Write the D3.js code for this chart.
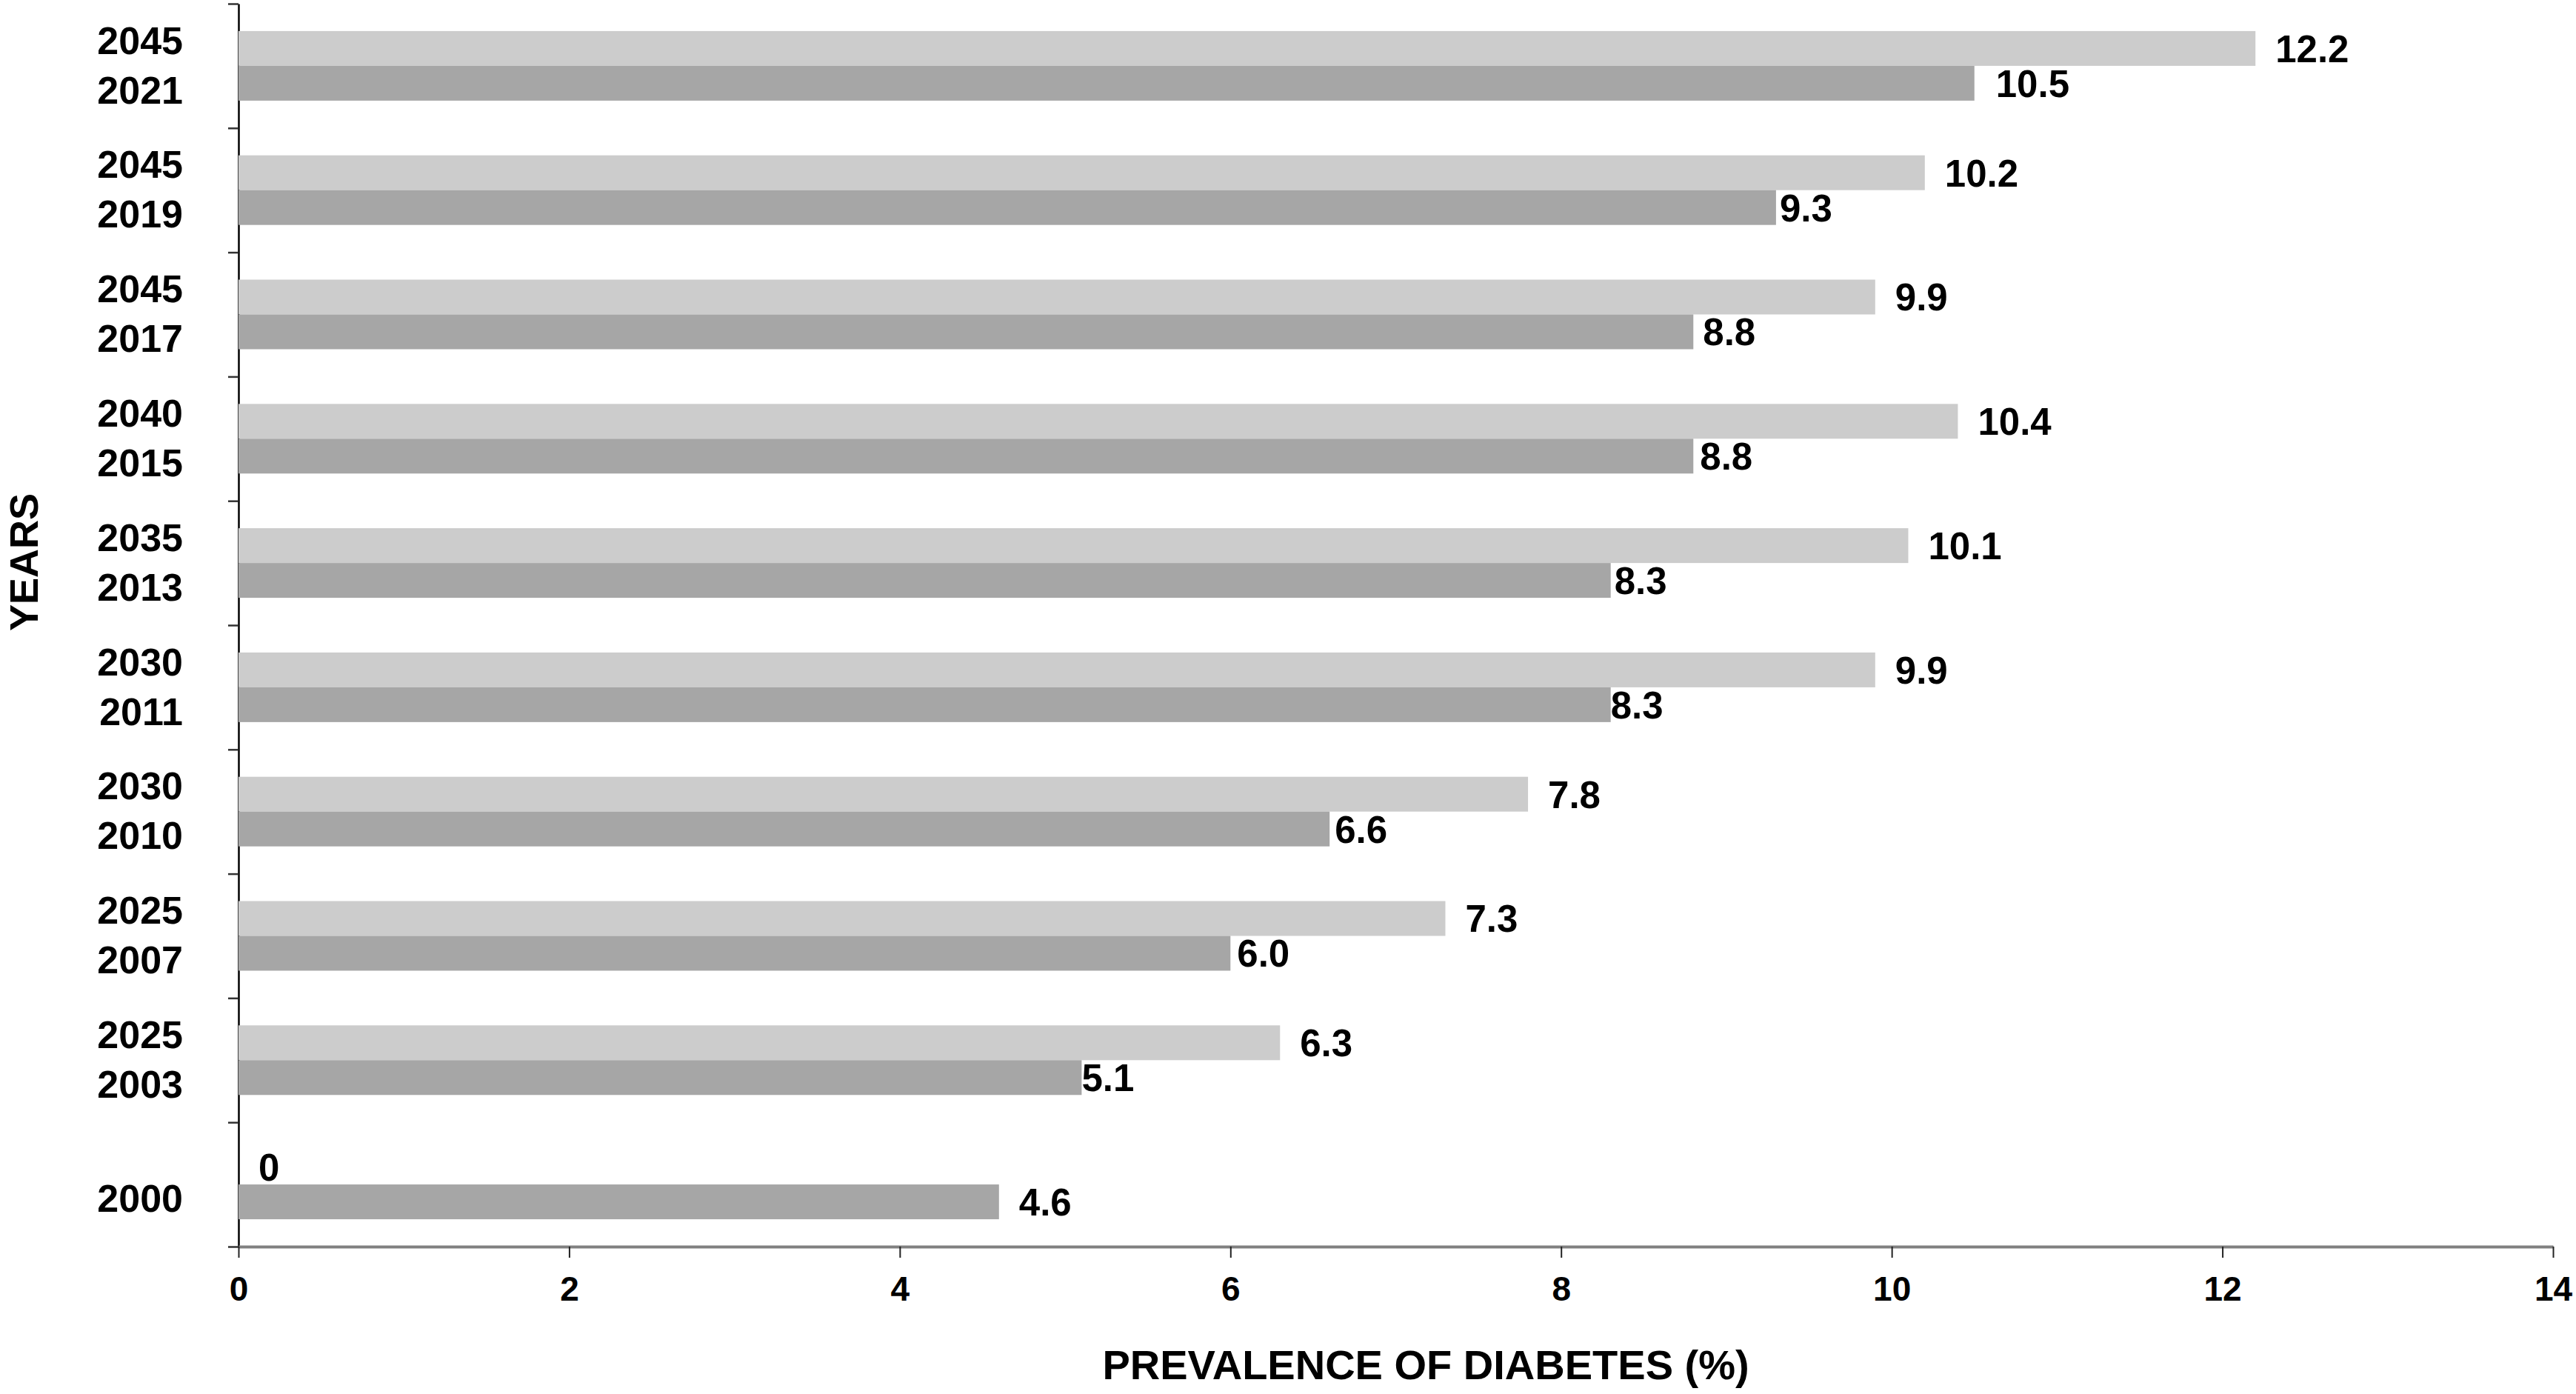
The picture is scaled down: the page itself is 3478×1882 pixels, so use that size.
<!DOCTYPE html>
<html>
<head>
<meta charset="utf-8">
<script src="https://cdn.jsdelivr.net/npm/d3@7"></script>
<style>
  html, body { margin: 0; padding: 0; background: #fff; }
  text { font-family: "Liberation Sans", Arial, sans-serif; font-weight: bold; fill: #000; }
</style>
</head>
<body>
<div id="chart"></div>
<script>
// data, top group first
const baseYears = ['2021', '2019', '2017', '2015', '2013', '2011', '2010', '2007', '2003', '2000']
const projYears = ['2045', '2045', '2045', '2040', '2035', '2030', '2030', '2025', '2025', null]
const baseValues = [10.5, 9.3, 8.8, 8.8, 8.3, 8.3, 6.6, 6.0, 5.1, 4.6]
const projValues = [12.2, 10.2, 9.9, 10.4, 10.1, 9.9, 7.8, 7.3, 6.3, 0]
const xTicks = [0, 2, 4, 6, 8, 10, 12, 14]

const width = 3478,
  height = 1882

const plotLeft = 322, plotRight = 3447, plotTop = 5, plotBottom = 1683

const svg = d3.select('#chart')
  .append('svg')
  .attr('width', width)
  .attr('height', height)
  .style('background', '#fff')

const x = d3.scaleLinear().domain([0, 14]).range([plotLeft, plotRight])

const groups = d3.range(baseYears.length)
const y = d3.scaleBand()
  .domain(groups)
  .range([plotTop, plotBottom])
  .paddingInner(0.44)
  .paddingOuter(0.22)

const barH = y.bandwidth() / 2
const mid = i => y(i) + barH

// y axis: ticks sit between the groups
const yLin = d3.scaleLinear().domain([0, groups.length]).range([plotTop, plotBottom])
const yAxis = svg.append('g')
  .attr('transform', `translate(${plotLeft},0)`)
  .call(d3.axisLeft(yLin).ticks(groups.length).tickSize(14).tickSizeOuter(0).tickFormat(''))
yAxis.select('.domain').attr('stroke', '#000').attr('stroke-width', 2.5)
yAxis.selectAll('.tick line').attr('stroke', '#333').attr('stroke-width', 2.5)

// bars
svg.selectAll('rect.proj')
  .data(projValues)
  .enter()
  .append('rect')
  .attr('class', 'proj')
  .attr('x', x(0))
  .attr('y', (d, i) => mid(i) - barH)
  .attr('width', d => x(d) - x(0))
  .attr('height', barH)
  .attr('fill', '#cccccc')

svg.selectAll('rect.base')
  .data(baseValues)
  .enter()
  .append('rect')
  .attr('class', 'base')
  .attr('x', x(0))
  .attr('y', (d, i) => mid(i))
  .attr('width', d => x(d) - x(0))
  .attr('height', barH)
  .attr('fill', '#a6a6a6')

// x axis
const xAxis = svg.append('g')
  .attr('transform', `translate(0,${plotBottom})`)
  .call(d3.axisBottom(x).tickValues(xTicks).tickSize(15).tickSizeOuter(0).tickPadding(25))
xAxis.select('.domain').attr('stroke', '#808080').attr('stroke-width', 4)
xAxis.selectAll('.tick line').attr('stroke', '#222').attr('stroke-width', 2)
xAxis.selectAll('.tick text').style('font-size', '46px').attr('font-weight', 'bold')

// value labels
const fs = 51
const darkGap = [29, 5, 13, 9, 5, 0, 7, 9, 0, 27]

svg.selectAll('text.projval')
  .data(projValues)
  .enter()
  .append('text')
  .attr('class', 'projval')
  .attr('x', d => x(d) + 27)
  .attr('y', (d, i) => mid(i) - barH / 2 + fs * 0.36)
  .style('font-size', fs + 'px')
  .text(d => d === 0 ? '0' : d3.format('.1f')(d))

svg.selectAll('text.baseval')
  .data(baseValues)
  .enter()
  .append('text')
  .attr('class', 'baseval')
  .attr('x', (d, i) => x(d) + darkGap[i])
  .attr('y', (d, i) => mid(i) + barH / 2 + fs * 0.36)
  .style('font-size', fs + 'px')
  .text(d => d3.format('.1f')(d))

// year labels
const yfs = 52
groups.forEach(i => {
  if (projYears[i]) {
    svg.append('text')
      .attr('x', 247)
      .attr('y', mid(i) - 35 + yfs * 0.36)
      .attr('text-anchor', 'end')
      .style('font-size', yfs + 'px')
      .text(projYears[i])
    svg.append('text')
      .attr('x', 247)
      .attr('y', mid(i) + 32 + yfs * 0.36)
      .attr('text-anchor', 'end')
      .style('font-size', yfs + 'px')
      .text(baseYears[i])
  } else {
    svg.append('text')
      .attr('x', 247)
      .attr('y', mid(i) + 18 + yfs * 0.36)
      .attr('text-anchor', 'end')
      .style('font-size', yfs + 'px')
      .text(baseYears[i])
  }
})

// axis titles
svg.append('text')
  .attr('x', 1925)
  .attr('y', 1862)
  .attr('text-anchor', 'middle')
  .style('font-size', '56px')
  .text('PREVALENCE OF DIABETES (%)')

svg.append('text')
  .attr('transform', 'translate(51,759) rotate(-90)')
  .attr('text-anchor', 'middle')
  .style('font-size', '54px')
  .text('YEARS')
</script>
</body>
</html>
